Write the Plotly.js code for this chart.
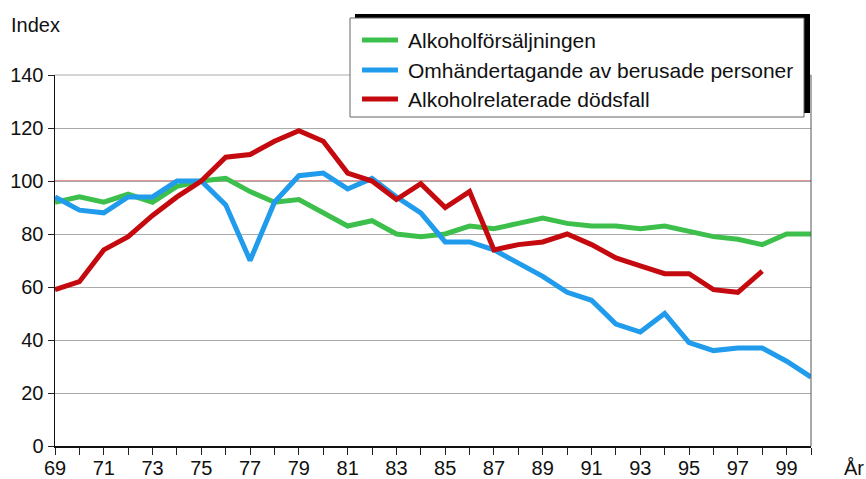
<!DOCTYPE html>
<html>
<head>
<meta charset="utf-8">
<script src="https://cdn.plot.ly/plotly-3.0.1.min.js"></script>
<style>html,body{margin:0;padding:0;background:#fff;}#chart{width:866px;height:479px;}</style>
</head>
<body>
<div id="chart"></div>
<script>
const years = [69,70,71,72,73,74,75,76,77,78,79,80,81,82,83,84,85,86,87,88,89,90,91,92,93,94,95,96,97,98,99,100];
const salesValues = [92,94,92,95,92,98,100,101,96,92,93,88,83,85,80,79,80,83,82,84,86,84,83,83,82,83,81,79,78,76,80,80];
const custodyValues = [94,89,88,94,94,100,100,91,70,92,102,103,97,101,94,88,77,77,74,69,64,58,55,46,43,50,39,36,37,37,32,26];
const deathYears = [69,70,71,72,73,74,75,76,77,78,79,80,81,82,83,84,85,86,87,88,89,90,91,92,93,94,95,96,97,98];
const deathValues = [59,62,74,79,87,94,100,109,110,115,119,115,103,100,93,99,90,96,74,76,77,80,76,71,68,65,65,59,58,66];
const seriesNames = ["Alkoholförsäljningen","Omhändertagande av berusade personer","Alkoholrelaterade dödsfall"];
const seriesColors = ["rgb(60,192,75)","rgb(33,155,235)","rgb(196,10,14)"];
const xTickVals = [69,71,73,75,77,79,81,83,85,87,89,91,93,95,97,99];
const xTickText = ["69","71","73","75","77","79","81","83","85","87","89","91","93","95","97","99"];
const yTickVals = [0,20,40,60,80,100,120,140];
const referenceLevel = 100;

const font = "Liberation Sans, Arial, sans-serif";
const W = 866, H = 479, L = 55, R = 55, T = 75, B = 33;
const pw = W - L - R, ph = H - T - B;
const px = v => (v - L) / pw;          // pixel x -> paper x
const py = v => (H - B - v) / ph;      // pixel y -> paper y

const traces = [
  {x: years, y: salesValues, name: seriesNames[0], mode: "lines", line: {color: seriesColors[0], width: 5}},
  {x: years, y: custodyValues, name: seriesNames[1], mode: "lines", line: {color: seriesColors[1], width: 5}},
  {x: deathYears, y: deathValues, name: seriesNames[2], mode: "lines", line: {color: seriesColors[2], width: 5}}
];

const legendRows = [40, 70, 99];
const shapes = [
  {type: "line", xref: "paper", yref: "y", x0: 0, x1: 1, y0: referenceLevel, y1: referenceLevel, line: {color: "rgb(200,40,40)", width: 1}, layer: "below"},
  {type: "line", xref: "paper", yref: "paper", x0: 0, x1: 1, y0: 1, y1: 1, line: {color: "#aaa", width: 1}, layer: "below"},
  {type: "line", xref: "paper", yref: "paper", x0: 1, x1: 1, y0: 0, y1: 1, line: {color: "#555", width: 1}, layer: "above"},
  {type: "rect", xref: "paper", yref: "paper", x0: px(355), x1: px(810), y0: py(113), y1: py(14), fillcolor: "#000", line: {width: 0}, layer: "above"},
  {type: "rect", xref: "paper", yref: "paper", x0: px(350), x1: px(804), y0: py(117), y1: py(18), fillcolor: "#fff", line: {color: "#666", width: 1}, layer: "above"}
];
const annotations = [
  {text: "Index", xref: "paper", yref: "paper", x: px(9), y: py(25), xanchor: "left", yanchor: "middle", showarrow: false, font: {family: font, size: 20, color: "#111"}},
  {text: "År", xref: "paper", yref: "paper", x: px(842), y: py(468), xanchor: "left", yanchor: "middle", showarrow: false, font: {family: font, size: 20, color: "#111"}}
];
seriesNames.forEach((n, i) => {
  shapes.push({type: "line", xref: "paper", yref: "paper", x0: px(362), x1: px(398), y0: py(legendRows[i]), y1: py(legendRows[i]), line: {color: seriesColors[i], width: 5}, layer: "above"});
  annotations.push({text: n, xref: "paper", yref: "paper", x: px(406), y: py(legendRows[i]), xanchor: "left", yanchor: "middle", showarrow: false, font: {family: font, size: 21, color: "#111"}});
});

const layout = {
  width: W, height: H,
  margin: {l: L, r: R, t: T, b: B, pad: 0},
  paper_bgcolor: "#fff", plot_bgcolor: "#fff",
  font: {family: font, size: 20, color: "#111"},
  showlegend: false,
  xaxis: {
    range: [69, 100], tickmode: "array", tickvals: xTickVals, ticktext: xTickText,
    ticks: "outside", ticklen: 7, tickcolor: "#222", tickwidth: 1,
    minor: {dtick: 1, tick0: 69, ticks: "outside", ticklen: 7, tickcolor: "#222", tickwidth: 1, showgrid: false},
    showgrid: false, zeroline: false, showline: true, linecolor: "#111", linewidth: 2,
    ticklabelstandoff: -4,
    tickfont: {family: font, size: 20, color: "#111"}, fixedrange: true
  },
  yaxis: {
    range: [0, 140], tickmode: "array", tickvals: yTickVals,
    ticks: "outside", ticklen: 6, tickcolor: "#222", tickwidth: 1,
    showgrid: true, gridcolor: "#aaa", gridwidth: 1, zeroline: false,
    showline: true, linecolor: "#111", linewidth: 1.5,
    tickfont: {family: font, size: 20, color: "#111"}, fixedrange: true
  },
  shapes: shapes,
  annotations: annotations
};

Plotly.newPlot("chart", traces, layout, {displayModeBar: false, staticPlot: true});
</script>
</body>
</html>
